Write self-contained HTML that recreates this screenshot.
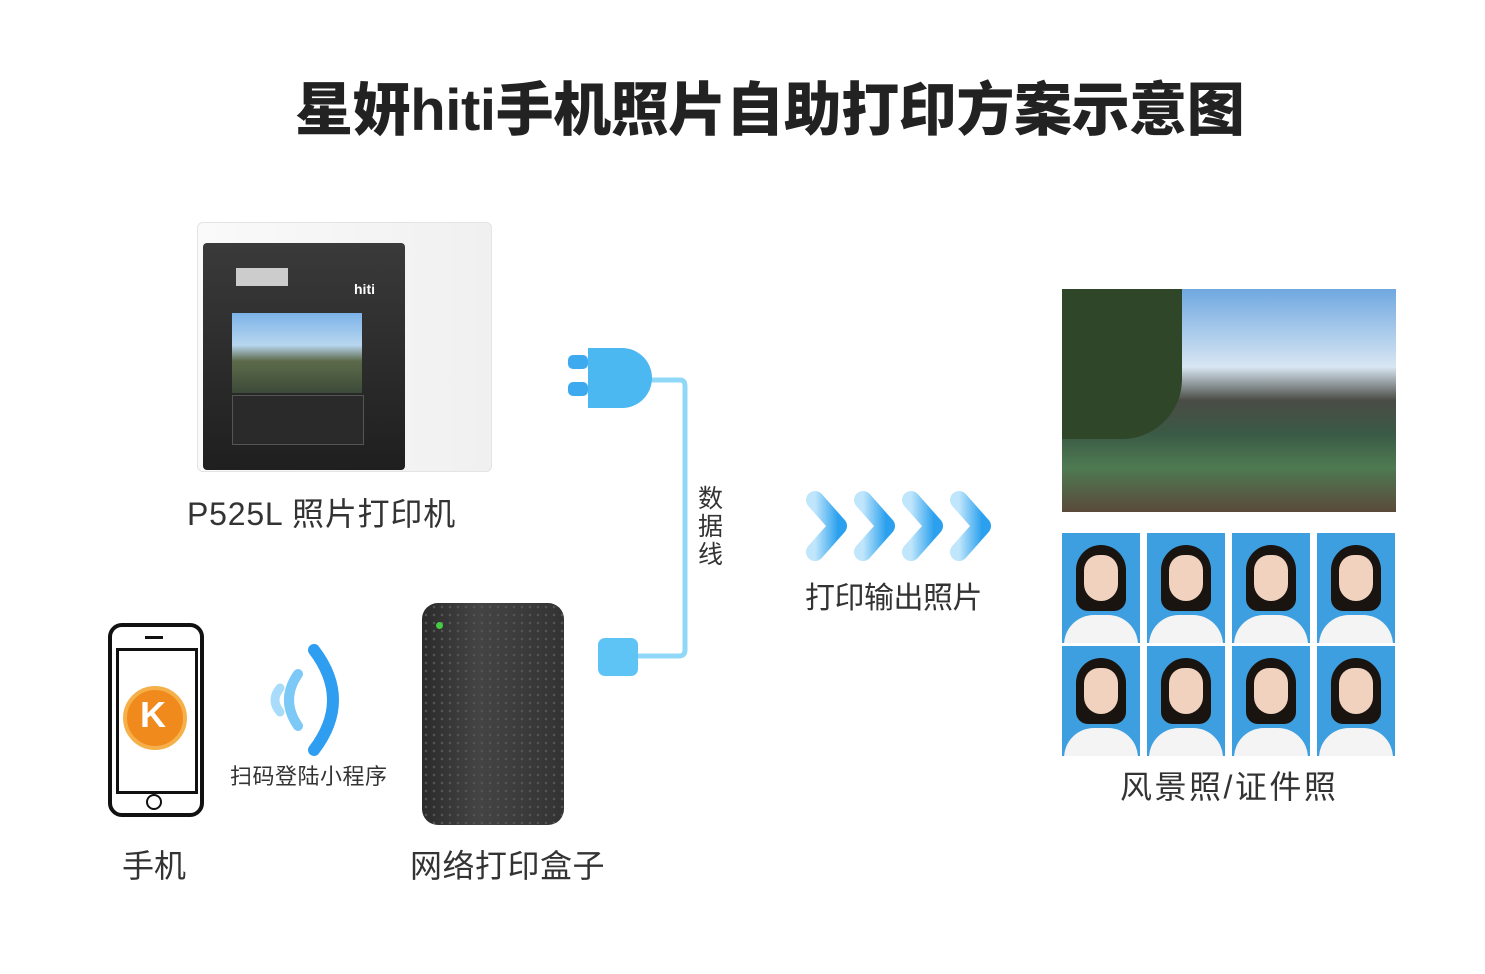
<!DOCTYPE html>
<html><head><meta charset="utf-8"><style>
body{margin:0;width:1485px;height:974px;background:#fff;position:relative;overflow:hidden;font-family:"Liberation Sans","Noto Sans CJK SC",sans-serif;color:#333}
.a{position:absolute}
.t{position:absolute;white-space:nowrap;line-height:1}
.id{position:absolute;width:78px;height:110px;background:#3d9fe0;overflow:hidden}
.id .h{position:absolute;left:14px;top:12px;width:50px;height:66px;background:#1a1410;border-radius:25px 25px 12px 12px}
.id .f{position:absolute;left:22px;top:22px;width:34px;height:46px;background:#f1d2bf;border-radius:16px 16px 18px 18px}
.id .s{position:absolute;left:2px;top:82px;width:74px;height:40px;background:#f4f4f4;border-radius:30px 30px 0 0}
</style></head><body>
<div class="t" style="left:295px;top:82px;font-size:58px;font-weight:900;color:#222;letter-spacing:-0.4px">星妍hiti手机照片自助打印方案示意图</div>

<!-- printer -->
<div class="a" style="left:197px;top:222px;width:295px;height:250px;background:linear-gradient(90deg,#fafafa,#f0f0f0);border-radius:6px;box-shadow:inset 0 0 0 1px #e4e4e4"></div>
<div class="a" style="left:203px;top:243px;width:202px;height:227px;background:linear-gradient(180deg,#3a3a3a,#1f1f1f);border-radius:4px"></div>
<div class="a" style="left:236px;top:268px;width:52px;height:18px;background:#ccc"></div>
<div class="t" style="left:354px;top:282px;font-size:14px;color:#fff;font-weight:bold">hiti</div>
<div class="a" style="left:232px;top:313px;width:130px;height:80px;background:linear-gradient(180deg,#7bb3e8 0%,#b8d6ef 40%,#5d6b4a 60%,#3c4a3a 100%)"></div>
<div class="a" style="left:232px;top:395px;width:130px;height:48px;background:#2a2a2a;border:1px solid #555"></div>
<div class="t" style="left:187px;top:498px;font-size:32px;letter-spacing:0.8px">P525L 照片打印机</div>

<!-- cable -->
<svg class="a" style="left:560px;top:340px" width="140" height="345">
<path d="M90 40 H120 Q125 40 125 46 V310 Q125 316 119 316 H75" fill="none" stroke="#8fd8f8" stroke-width="5"/>
<rect x="8" y="15" width="20" height="14" rx="5" fill="#3daaf0"/>
<rect x="8" y="42" width="20" height="14" rx="5" fill="#3daaf0"/>
<path d="M28 8 H62 A30 30 0 0 1 62 68 H28 Z" fill="#4cb8f2"/>
<rect x="38" y="298" width="40" height="38" rx="7" fill="#5ec4f5"/>
</svg>
<div class="t" style="left:698px;top:485px;font-size:25px;line-height:28px;width:28px;white-space:normal">数据线</div>

<!-- chevrons -->
<svg class="a" style="left:800px;top:488px" width="200" height="78">
<defs><linearGradient id="g" x1="0" x2="1"><stop offset="0" stop-color="#bfe6fb"/><stop offset="1" stop-color="#2ba0ee"/></linearGradient></defs>
<g fill="none" stroke="url(#g)" stroke-width="18" stroke-linejoin="round" stroke-linecap="round">
<path d="M15 12 L38 38 L15 64"/><path d="M63 12 L86 38 L63 64"/><path d="M111 12 L134 38 L111 64"/><path d="M159 12 L182 38 L159 64"/></g>
</svg>
<div class="t" style="left:805px;top:584px;font-size:30px;letter-spacing:-0.5px">打印输出照片</div>

<!-- landscape -->
<div class="a" style="left:1062px;top:289px;width:334px;height:223px;background:linear-gradient(180deg,#6fa8e0 0%,#d8e6f2 35%,#4a4c45 50%,#3a5a45 65%,#4e7a52 80%,#5a4a3a 100%)"></div>
<div class="a" style="left:1062px;top:289px;width:120px;height:150px;background:#2f4628;border-radius:0 0 60px 0"></div>

<!-- ids -->
<div class="id" style="left:1062px;top:533px"><div class="h"></div><div class="f"></div><div class="s"></div></div>
<div class="id" style="left:1147px;top:533px"><div class="h"></div><div class="f"></div><div class="s"></div></div>
<div class="id" style="left:1232px;top:533px"><div class="h"></div><div class="f"></div><div class="s"></div></div>
<div class="id" style="left:1317px;top:533px"><div class="h"></div><div class="f"></div><div class="s"></div></div>
<div class="id" style="left:1062px;top:646px"><div class="h"></div><div class="f"></div><div class="s"></div></div>
<div class="id" style="left:1147px;top:646px"><div class="h"></div><div class="f"></div><div class="s"></div></div>
<div class="id" style="left:1232px;top:646px"><div class="h"></div><div class="f"></div><div class="s"></div></div>
<div class="id" style="left:1317px;top:646px"><div class="h"></div><div class="f"></div><div class="s"></div></div>
<div class="t" style="left:1120px;top:771px;font-size:32px;letter-spacing:2.5px">风景照/证件照</div>

<!-- phone -->
<div class="a" style="left:108px;top:623px;width:88px;height:186px;border:4px solid #111;border-radius:14px"></div>
<div class="a" style="left:116px;top:648px;width:76px;height:140px;border:3px solid #111;background:#fff"></div>
<div class="a" style="left:146px;top:794px;width:12px;height:12px;border:2px solid #111;border-radius:50%"></div>
<div class="a" style="left:145px;top:636px;width:18px;height:3px;background:#111"></div>
<div class="a" style="left:123px;top:686px;width:56px;height:56px;border-radius:50%;background:#f08a1c;border:4px solid #f6b04a"></div>
<div class="t" style="left:140px;top:697px;font-size:36px;font-weight:bold;color:#fff">K</div>
<div class="t" style="left:122px;top:850px;font-size:32px">手机</div>

<!-- wifi -->
<svg class="a" style="left:262px;top:640px" width="90" height="120">
<path d="M18 48 Q8 60 18 72" fill="none" stroke="#a9dcfa" stroke-width="9" stroke-linecap="round"/>
<path d="M36 34 Q18 60 36 86" fill="none" stroke="#7cc8f6" stroke-width="10" stroke-linecap="round"/>
<path d="M52 10 Q90 60 52 110" fill="none" stroke="#2f9ef0" stroke-width="12" stroke-linecap="round"/>
</svg>
<div class="t" style="left:230px;top:766px;font-size:22px;letter-spacing:0.5px">扫码登陆小程序</div>

<!-- box -->
<div class="a" style="left:422px;top:603px;width:142px;height:222px;background:radial-gradient(circle,#555 1px,transparent 1.5px) 0 0/8px 8px,linear-gradient(90deg,#2b2b2b,#444 40%,#333);border-radius:16px"></div>
<div class="a" style="left:436px;top:622px;width:7px;height:7px;background:#4c4;border-radius:50%"></div>
<div class="t" style="left:410px;top:850px;font-size:32px;letter-spacing:0.5px">网络打印盒子</div>
</body></html>
